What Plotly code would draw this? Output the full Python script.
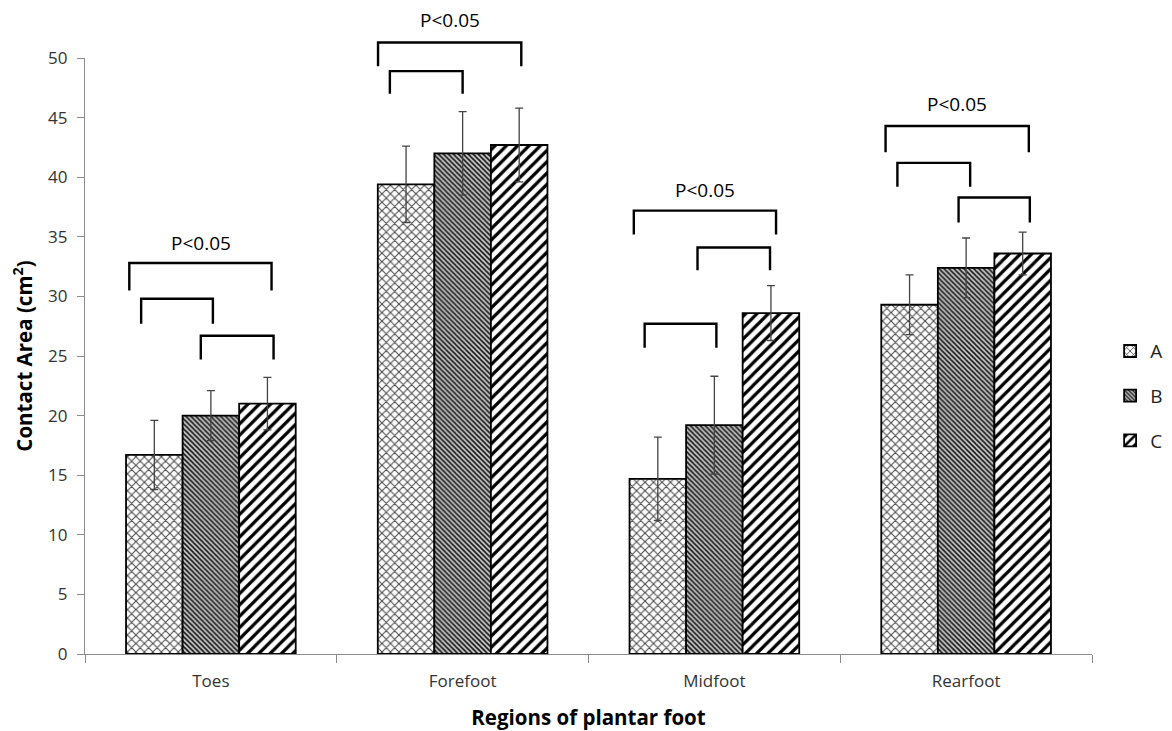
import plotly.graph_objects as go

categories = ["Toes", "Forefoot", "Midfoot", "Rearfoot"]
series_names = ["A", "B", "C"]
a_mean = [16.7, 39.4, 14.7, 29.3]
a_sd = [2.9, 3.2, 3.5, 2.5]
b_mean = [20.0, 42.0, 19.2, 32.4]
b_sd = [2.1, 3.5, 4.1, 2.5]
c_mean = [21.0, 42.7, 28.6, 33.6]
c_sd = [2.2, 3.1, 2.3, 1.8]
y_ticks = [0, 5, 10, 15, 20, 25, 30, 35, 40, 45, 50]

# significance brackets: (category index, left offset, right offset, top value, leg-end value)
brackets = [
    (0, -0.324, 0.241, 32.8, 30.5),
    (0, -0.277, 0.008, 29.8, 27.7),
    (0, -0.040, 0.249, 26.7, 24.7),
    (1, -0.336, 0.233, 51.3, 49.3),
    (1, -0.289, 0.000, 48.9, 47.0),
    (2, -0.320, 0.245, 37.2, 35.2),
    (2, -0.067, 0.221, 34.1, 32.2),
    (2, -0.277, 0.008, 27.7, 25.7),
    (3, -0.320, 0.249, 44.3, 42.1),
    (3, -0.273, 0.016, 41.2, 39.2),
    (3, -0.030, 0.253, 38.3, 36.2),
]
# P-value labels: (category index, offset, value)
p_labels = [
    (0, -0.041, 34.5, "P<0.05"),
    (1, -0.051, 53.2, "P<0.05"),
    (2, -0.037, 38.9, "P<0.05"),
    (3, -0.035, 46.1, "P<0.05"),
]

Y_MAX = 50
N_CAT = len(categories)

patterns = [
    dict(shape="x", size=6, solidity=0.32, fgcolor="#4a4a4a", bgcolor="white", fgopacity=1),
    dict(shape="\\", size=3.5, solidity=0.45, fgcolor="#1a1a1a", bgcolor="#c4c4c4", fgopacity=1),
    dict(shape="/", size=8, solidity=0.4, fgcolor="#000000", bgcolor="white", fgopacity=1),
]
means = [a_mean, b_mean, c_mean]
sds = [a_sd, b_sd, c_sd]

fig = go.Figure()
for name, m, s, pat in zip(series_names, means, sds, patterns):
    fig.add_trace(go.Bar(
        x=categories, y=m, name=name, legendgroup=name,
        marker=dict(color="white", pattern=pat, line=dict(color="black", width=1.8)),
        error_y=dict(type="data", array=s, visible=True, color="#444444", thickness=1.3, width=4),
    ))

def px_x(i, off):
    return (i + 0.5 + off) / N_CAT

shapes = []
for i, x0, x1, top, leg in brackets:
    xa, xb = px_x(i, x0), px_x(i, x1)
    yt, yl = top / Y_MAX, leg / Y_MAX
    shapes.append(dict(
        type="path", xref="paper", yref="paper",
        path=f"M {xa},{yl} L {xa},{yt} L {xb},{yt} L {xb},{yl}",
        line=dict(color="black", width=2.4),
    ))

annotations = []
for i, off, val, txt in p_labels:
    annotations.append(dict(
        x=px_x(i, off), y=val / Y_MAX, xref="paper", yref="paper",
        text=txt, showarrow=False, font=dict(size=19, color="black", family="Open Sans"),
        xanchor="center", yanchor="middle",
    ))

fig.update_layout(
    width=1172, height=731,
    margin=dict(l=77, r=83, t=50, b=85),
    plot_bgcolor="white", paper_bgcolor="white",
    barmode="group", bargap=0.326, bargroupgap=0,
    font=dict(family="Lato", color="#333333"),
    shapes=shapes, annotations=annotations,
    legend=dict(
        x=1.018, xanchor="left", y=0.54, yanchor="top",
        font=dict(size=19, color="#222222", family="Open Sans"),
        tracegroupgap=17, itemwidth=30, bgcolor="rgba(0,0,0,0)",
    ),
    xaxis=dict(
        range=[-0.5, 3.5], showline=True, linecolor="#8c8c8c", linewidth=1.3,
        ticks="outside", tickson="boundaries", ticklen=8, tickcolor="#8c8c8c",
        ticklabelstandoff=11,
        tickfont=dict(size=17, color="#333333", family="Open Sans"),
        title=dict(text="<b>Regions of plantar foot</b>", standoff=20,
                   font=dict(size=20.5, color="black", family="Open Sans")),
    ),
    yaxis=dict(
        range=[0, Y_MAX], tickvals=y_ticks, showgrid=False, zeroline=False,
        showline=True, linecolor="#8c8c8c", linewidth=1.3,
        ticks="outside", ticklen=7, tickcolor="#8c8c8c",
        ticklabelstandoff=6,
        tickfont=dict(size=17, color="#333333", family="Open Sans"),
        title=dict(text="<b>Contact Area (cm<sup>2</sup>)</b>", standoff=12,
                   font=dict(size=20.5, color="black", family="Open Sans")),
    ),
)

fig.write_html("out.html")
